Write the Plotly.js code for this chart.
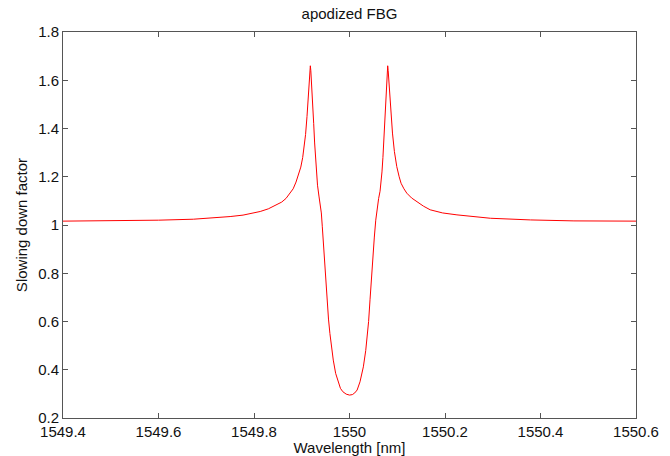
<!DOCTYPE html>
<html>
<head>
<meta charset="utf-8">
<script src="https://cdn.plot.ly/plotly-3.0.1.min.js"></script>
<style>html,body{margin:0;padding:0;background:#fff;}#chart{width:670px;height:456px;}</style>
</head>
<body>
<div id="chart"></div>
<script>
// Wavelength [nm] samples
const wavelength = [
  1549.40, 1549.50, 1549.60, 1549.673, 1549.72, 1549.75, 1549.777, 1549.80, 1549.813, 1549.83,
  1549.848, 1549.858, 1549.867, 1549.876, 1549.882, 1549.888, 1549.893, 1549.898, 1549.902, 1549.905,
  1549.908, 1549.911, 1549.913, 1549.915, 1549.917, 1549.918, 1549.919, 1549.921, 1549.923, 1549.925,
  1549.927, 1549.929, 1549.931, 1549.933, 1549.936, 1549.939, 1549.941, 1549.943, 1549.946, 1549.950,
  1549.953, 1549.956, 1549.959, 1549.962, 1549.966, 1549.971, 1549.976, 1549.981, 1549.986, 1549.993,
  1550.000,
  1550.006, 1550.011, 1550.016, 1550.022, 1550.029, 1550.034, 1550.037, 1550.040, 1550.043, 1550.046,
  1550.049, 1550.052, 1550.055, 1550.058, 1550.061, 1550.064, 1550.066, 1550.068, 1550.070, 1550.072,
  1550.074, 1550.076, 1550.078, 1550.080, 1550.081, 1550.083, 1550.085, 1550.087, 1550.090, 1550.094,
  1550.099, 1550.104, 1550.108, 1550.114, 1550.120, 1550.130, 1550.141, 1550.155, 1550.169, 1550.195,
  1550.225, 1550.260, 1550.295, 1550.379, 1550.470, 1550.600
];
// Slowing down factor values
const slowingFactor = [
  1.016, 1.017, 1.020, 1.024, 1.030, 1.035, 1.041, 1.050, 1.056, 1.067,
  1.083, 1.095, 1.110, 1.132, 1.150, 1.178, 1.205, 1.240, 1.280, 1.320,
  1.375, 1.450, 1.510, 1.580, 1.640, 1.660, 1.640, 1.580, 1.500, 1.420,
  1.340, 1.270, 1.210, 1.165, 1.120, 1.085, 1.050, 0.995, 0.900, 0.772,
  0.690, 0.610, 0.550, 0.495, 0.440, 0.385, 0.348, 0.323, 0.309, 0.299,
  0.295,
  0.297, 0.304, 0.316, 0.350, 0.412, 0.480, 0.530, 0.600, 0.690, 0.790,
  0.870, 0.950, 1.020, 1.075, 1.110, 1.140, 1.175, 1.220, 1.280, 1.350,
  1.420, 1.519, 1.600, 1.660, 1.640, 1.580, 1.519, 1.450, 1.381, 1.305,
  1.242, 1.200, 1.173, 1.150, 1.132, 1.112, 1.097, 1.078, 1.063, 1.050,
  1.042, 1.034, 1.028, 1.021, 1.017, 1.016
];
const xTickVals = [1549.4, 1549.6, 1549.8, 1550, 1550.2, 1550.4, 1550.6];
const xTickText = ['1549.4', '1549.6', '1549.8', '1550', '1550.2', '1550.4', '1550.6'];
const yTickVals = [0.2, 0.4, 0.6, 0.8, 1, 1.2, 1.4, 1.6, 1.8];
const yTickText = ['0.2', '0.4', '0.6', '0.8', '1', '1.2', '1.4', '1.6', '1.8'];

const font = 'Liberation Sans, Arial, Helvetica, sans-serif';
const axisCommon = {
  showline: true, linecolor: '#555', linewidth: 1, mirror: 'ticks',
  ticks: 'inside', ticklen: 5, tickcolor: '#555', tickwidth: 1,
  showgrid: false, zeroline: false, tickmode: 'array',
  tickfont: {family: font, size: 15, color: '#111'}
};

Plotly.newPlot('chart', [{
  x: wavelength, y: slowingFactor, type: 'scatter', mode: 'lines',
  line: {color: '#ff0000', width: 1}, hoverinfo: 'skip'
}], {
  width: 670, height: 456,
  margin: {l: 63, r: 34, t: 32, b: 38},
  paper_bgcolor: '#fff', plot_bgcolor: '#fff',
  showlegend: false,
  title: {text: 'apodized FBG', x: 0.5, xref: 'paper', y: 0.969, yanchor: 'middle',
          font: {family: font, size: 15, color: '#111'}},
  xaxis: Object.assign({}, axisCommon, {
    range: [1549.4, 1550.6], tickvals: xTickVals, ticktext: xTickText,
    title: {text: 'Wavelength [nm]', standoff: 0, font: {family: font, size: 15, color: '#111'}}
  }),
  yaxis: Object.assign({}, axisCommon, {
    range: [0.2, 1.8], tickvals: yTickVals, ticktext: yTickText,
    title: {text: 'Slowing down factor', standoff: 6, font: {family: font, size: 15, color: '#111'}}
  })
}, {displayModeBar: false, staticPlot: true});
</script>
</body>
</html>
